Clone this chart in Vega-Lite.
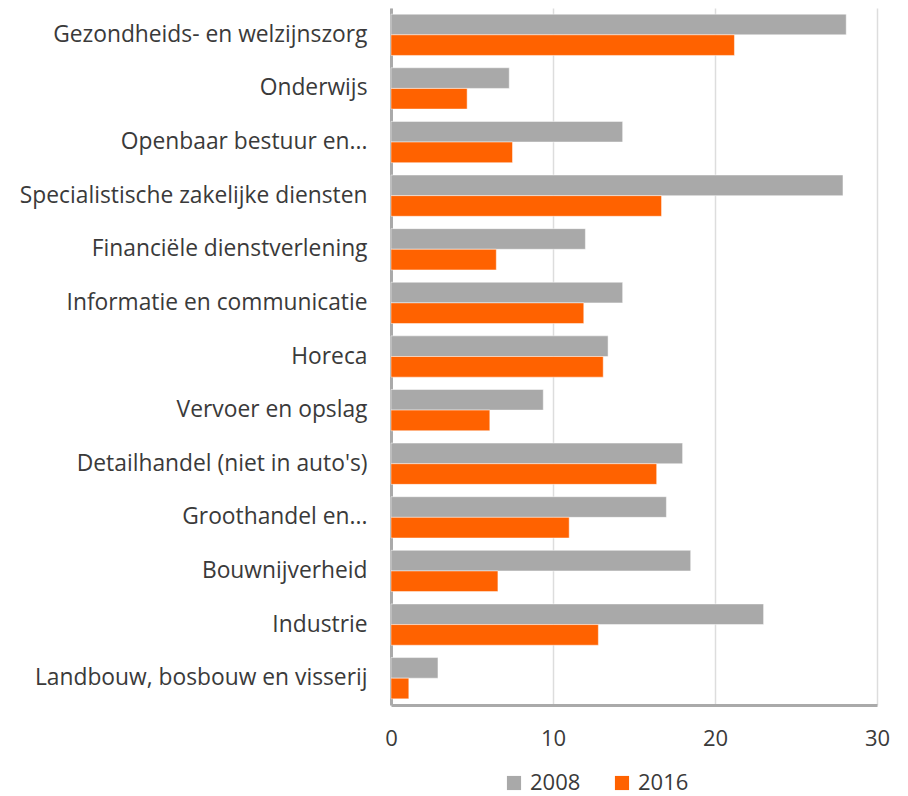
{
  "$schema": "https://vega.github.io/schema/vega-lite/v6.json",
  "autosize": "none",
  "padding": {"left": 391, "top": 8, "right": 31, "bottom": 91},
  "width": 486,
  "height": 697,
  "background": "#ffffff",
  "data": {
    "values": [
      {"sector": "Gezondheids- en welzijnszorg", "jaar": "2008", "waarde": 28.1},
      {"sector": "Gezondheids- en welzijnszorg", "jaar": "2016", "waarde": 21.2},
      {"sector": "Onderwijs", "jaar": "2008", "waarde": 7.3},
      {"sector": "Onderwijs", "jaar": "2016", "waarde": 4.7},
      {"sector": "Openbaar bestuur en...", "jaar": "2008", "waarde": 14.3},
      {"sector": "Openbaar bestuur en...", "jaar": "2016", "waarde": 7.5},
      {"sector": "Specialistische zakelijke diensten", "jaar": "2008", "waarde": 27.9},
      {"sector": "Specialistische zakelijke diensten", "jaar": "2016", "waarde": 16.7},
      {"sector": "Financiële dienstverlening", "jaar": "2008", "waarde": 12.0},
      {"sector": "Financiële dienstverlening", "jaar": "2016", "waarde": 6.5},
      {"sector": "Informatie en communicatie", "jaar": "2008", "waarde": 14.3},
      {"sector": "Informatie en communicatie", "jaar": "2016", "waarde": 11.9},
      {"sector": "Horeca", "jaar": "2008", "waarde": 13.4},
      {"sector": "Horeca", "jaar": "2016", "waarde": 13.1},
      {"sector": "Vervoer en opslag", "jaar": "2008", "waarde": 9.4},
      {"sector": "Vervoer en opslag", "jaar": "2016", "waarde": 6.1},
      {"sector": "Detailhandel (niet in auto's)", "jaar": "2008", "waarde": 18.0},
      {"sector": "Detailhandel (niet in auto's)", "jaar": "2016", "waarde": 16.4},
      {"sector": "Groothandel en...", "jaar": "2008", "waarde": 17.0},
      {"sector": "Groothandel en...", "jaar": "2016", "waarde": 11.0},
      {"sector": "Bouwnijverheid", "jaar": "2008", "waarde": 18.5},
      {"sector": "Bouwnijverheid", "jaar": "2016", "waarde": 6.6},
      {"sector": "Industrie", "jaar": "2008", "waarde": 23.0},
      {"sector": "Industrie", "jaar": "2016", "waarde": 12.8},
      {"sector": "Landbouw, bosbouw en visserij", "jaar": "2008", "waarde": 2.9},
      {"sector": "Landbouw, bosbouw en visserij", "jaar": "2016", "waarde": 1.1}
    ]
  },
  "mark": {"type": "bar", "stroke": "#ffffff", "strokeWidth": 0.8, "strokeOpacity": 0.6},
  "encoding": {
    "y": {
      "field": "sector",
      "type": "nominal",
      "sort": null,
      "title": null,
      "scale": {"paddingInner": 0.23, "paddingOuter": 0.115},
      "axis": {
        "ticks": false,
        "labelFontSize": 22.8,
        "labelFont": "Open Sans",
        "labelColor": "#3a3a3a",
        "labelPadding": 24,
        "labelLimit": 400,
        "domainColor": "#aaaaaa",
        "domainWidth": 3,
        "grid": false
      }
    },
    "yOffset": {"field": "jaar", "type": "nominal", "sort": ["2008", "2016"], "scale": {"paddingInner": 0}},
    "x": {
      "field": "waarde",
      "type": "quantitative",
      "title": null,
      "scale": {"domain": [0, 30], "nice": false},
      "axis": {
        "values": [0, 10, 20, 30],
        "ticks": false,
        "labelFlush": false,
        "labelFontSize": 22,
        "labelFont": "Open Sans",
        "labelColor": "#3a3a3a",
        "labelPadding": 23,
        "domainColor": "#aaaaaa",
        "domainWidth": 3,
        "gridColor": "#dddddd",
        "gridWidth": 1.5
      }
    },
    "color": {
      "field": "jaar",
      "type": "nominal",
      "scale": {"domain": ["2008", "2016"], "range": ["#a9a9a9", "#ff6200"]},
      "legend": {
        "title": null,
        "orient": "none",
        "direction": "horizontal",
        "legendX": 112,
        "legendY": 764,
        "symbolType": "square",
        "symbolSize": 200,
        "symbolStrokeWidth": 0,
        "labelFontSize": 22,
        "labelFont": "Open Sans",
        "labelColor": "#3a3a3a",
        "columnPadding": 30,
        "labelOffset": 5
      }
    }
  },
  "config": {"view": {"stroke": null}}
}
